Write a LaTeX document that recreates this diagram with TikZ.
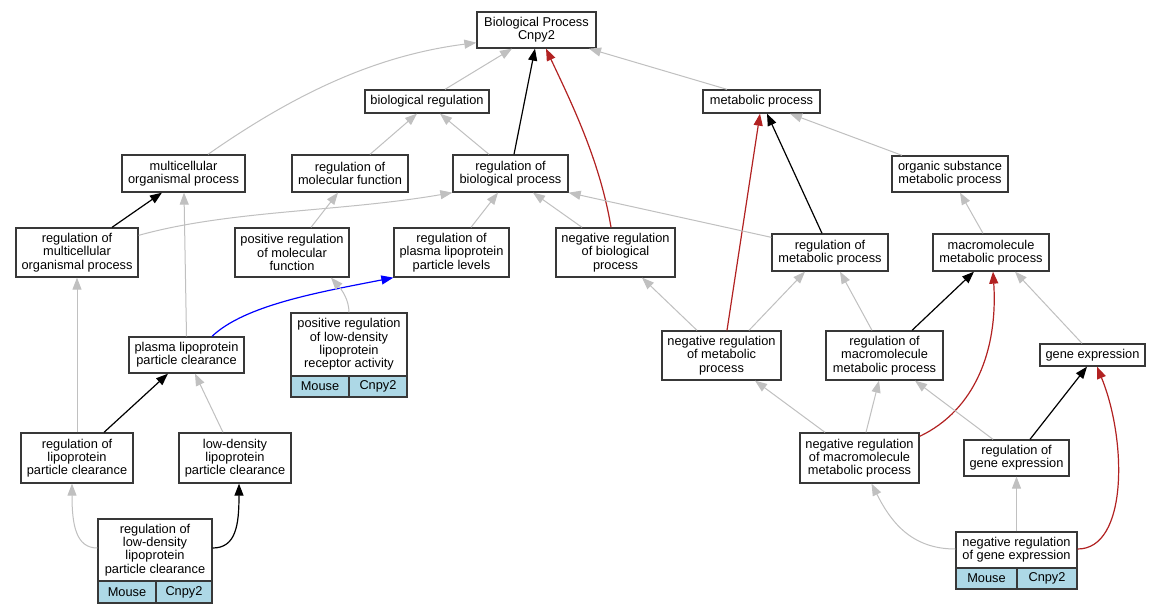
\documentclass[tikz,border=0pt]{standalone}
\usepackage{fontspec}
\setmainfont{Liberation Sans}
\usetikzlibrary{arrows.meta}
\definecolor{edgegray}{HTML}{C0C0C0}
\definecolor{fbrick}{HTML}{B22222}
\definecolor{boxline}{HTML}{383838}
\definecolor{cellblue}{HTML}{ADD8E6}
\begin{document}
\begin{tikzpicture}[x=1pt,y=-1pt,
  box/.style={draw=boxline,line width=1.3pt,fill=white,inner sep=0pt,align=center,
    font=\fontsize{12.8}{13.3}\selectfont},
  cell/.style={box,fill=cellblue},
  tip/.style={-{Triangle[length=12pt,width=9pt]}},
  ge/.style={tip,draw=edgegray,line width=1pt},
  be/.style={tip,draw=black,line width=1.2pt},
  re/.style={tip,draw=fbrick,line width=1.2pt},
  ble/.style={tip,draw=blue,line width=1.2pt}]
\useasboundingbox (0,0) rectangle (1160,613);
\fill[white] (0,0) rectangle (1160,613);

% nodes
\node[box,minimum width=119pt,minimum height=36pt] (n1) at (536.5,30) {Biological Process\\Cnpy2};
\node[box,minimum width=124pt,minimum height=23pt] (n2) at (427,101.5) {biological regulation};
\node[box,minimum width=117pt,minimum height=23pt] (n3) at (761.5,101.5) {metabolic process};
\node[box,minimum width=123pt,minimum height=37pt] (n4) at (183.5,173.5) {multicellular\\organismal process};
\node[box,minimum width=116pt,minimum height=37pt] (n5) at (350,173.5) {regulation of\\molecular function};
\node[box,minimum width=115pt,minimum height=37pt] (n6) at (510.5,173.5) {regulation of\\biological process};
\node[box,minimum width=116pt,minimum height=36pt] (n7) at (950,174) {organic substance\\metabolic process};
\node[box,minimum width=122pt,minimum height=49pt] (n8) at (77,252.5) {regulation of\\multicellular\\organismal process};
\node[box,minimum width=114pt,minimum height=49pt] (n9) at (292,252.5) {positive regulation\\of molecular\\function};
\node[box,minimum width=115pt,minimum height=49pt] (n10) at (451.5,252.5) {regulation of\\plasma lipoprotein\\particle levels};
\node[box,minimum width=119pt,minimum height=49pt] (n11) at (615.5,252.5) {negative regulation\\of biological\\process};
\node[box,minimum width=116pt,minimum height=37pt] (n12) at (830,252.5) {regulation of\\metabolic process};
\node[box,minimum width=116pt,minimum height=37pt] (n13) at (991,252.5) {macromolecule\\metabolic process};
\node[box,minimum width=115pt,minimum height=36pt] (n14) at (186.5,355) {plasma lipoprotein\\particle clearance};
\node[box,minimum width=116pt,minimum height=63pt] (n15) at (349,344.5) {positive regulation\\of low-density\\lipoprotein\\receptor activity};
\node[cell,minimum width=58pt,minimum height=21pt] (n15m) at (320,386.5) {Mouse};
\node[cell,minimum width=58pt,minimum height=21pt] (n15c) at (378,386.5) {Cnpy2};
\node[box,minimum width=119pt,minimum height=49pt] (n16) at (721.5,355.5) {negative regulation\\of metabolic\\process};
\node[box,minimum width=117pt,minimum height=49pt] (n17) at (884.5,355.5) {regulation of\\macromolecule\\metabolic process};
\node[box,minimum width=105pt,minimum height=22pt] (n18) at (1092.5,355) {gene expression};
\node[box,minimum width=112pt,minimum height=50pt] (n19) at (77,458) {regulation of\\lipoprotein\\particle clearance};
\node[box,minimum width=112pt,minimum height=50pt] (n20) at (235,458) {low-density\\lipoprotein\\particle clearance};
\node[box,minimum width=119pt,minimum height=50pt] (n21) at (859.5,458) {negative regulation\\of macromolecule\\metabolic process};
\node[box,minimum width=105pt,minimum height=36pt] (n22) at (1016.5,458) {regulation of\\gene expression};
\node[box,minimum width=114pt,minimum height=62pt] (n23) at (155,550) {regulation of\\low-density\\lipoprotein\\particle clearance};
\node[cell,minimum width=58pt,minimum height=22pt] (n23m) at (127,592) {Mouse};
\node[cell,minimum width=56pt,minimum height=22pt] (n23c) at (184,592) {Cnpy2};
\node[box,minimum width=121pt,minimum height=36pt] (n24) at (1016.5,550) {negative regulation\\of gene expression};
\node[cell,minimum width=61pt,minimum height=21pt] (n24m) at (986.5,578.5) {Mouse};
\node[cell,minimum width=60pt,minimum height=21pt] (n24c) at (1047,578.5) {Cnpy2};

% edges
\draw[ge] ([xshift=24.5pt]n4.north) .. controls (300,90) and (380,55) .. ([yshift=6pt]n1.south west);
\draw[ge] ([xshift=18pt]n2.north) -- ([xshift=-24.5pt]n1.south);
\draw[be] ([xshift=3.5pt]n6.north) -- ([xshift=-1.5pt]n1.south);
\draw[re] ([xshift=-4.5pt]n11.north) .. controls (600,160) and (570,100) .. ([xshift=9.5pt]n1.south);
\draw[ge] ([xshift=-34.5pt]n3.north) -- ([xshift=52.5pt]n1.south);
\draw[ge] ([xshift=20pt]n5.north) -- ([xshift=-10pt]n2.south);
\draw[ge] ([xshift=-21.5pt]n6.north) -- ([xshift=13pt]n2.south);
\draw[re] ([xshift=5.5pt]n16.north) -- ([xshift=-1.5pt]n3.south);
\draw[be] ([xshift=-8pt]n12.north) -- ([xshift=5.5pt]n3.south);
\draw[ge] ([xshift=-48pt]n7.north) -- ([xshift=28.5pt]n3.south);
\draw[be] ([xshift=35pt]n8.north) -- ([xshift=-21.5pt]n4.south);
\draw[ge] (n14.north) -- ([xshift=0.5pt]n4.south);
\draw[ge] ([xshift=19pt]n9.north) -- ([xshift=-12pt]n5.south);
\draw[ge] ([yshift=-8pt]n8.north east) .. controls (230,210) and (340,212) .. (n6.south west);
\draw[ge] ([xshift=19.5pt]n10.north) -- ([xshift=-12.5pt]n6.south);
\draw[ge] ([xshift=-33.5pt]n11.north) -- ([xshift=22.5pt]n6.south);
\draw[ge] ([yshift=-4pt]n12.north west) -- (n6.south east);
\draw[ge] ([xshift=-8pt]n13.north) -- ([xshift=10pt]n7.south);
\draw[ge] ([xshift=-24.5pt]n16.north) -- ([xshift=26.5pt]n11.south);
\draw[ge] ([xshift=27.5pt]n16.north) -- ([xshift=-25pt]n12.south);
\draw[ge] ([xshift=-12.5pt]n17.north) -- ([xshift=10pt]n12.south);
\draw[be] ([xshift=27.5pt]n17.north) -- ([xshift=-17pt]n13.south);
\draw[re] ([yshift=-4pt]n21.north east) .. controls (975,410) and (998,350) .. ([xshift=2pt]n13.south);
\draw[ge] ([xshift=-10.5pt]n18.north) -- ([xshift=24pt]n13.south);
\draw[ge] (n19.north) -- (n8.south);
\draw[be] ([xshift=27pt]n19.north) -- ([xshift=-18.5pt]n14.south);
\draw[ge] ([xshift=-12pt]n20.north) -- ([xshift=8.5pt]n14.south);
\draw[ble] ([xshift=25.5pt]n14.north) .. controls (245,305) and (320,292) .. (n10.south west);
\draw[ge] (n15.north) .. controls (349,300) and (342,290) .. ([xshift=39pt]n9.south);
\draw[ge] ([yshift=2pt]n23.west) .. controls (76,548) and (72,525) .. ([xshift=-5pt]n19.south);
\draw[be] ([yshift=2pt]n23.east) .. controls (236,548) and (239,525) .. ([xshift=4pt]n20.south);
\draw[ge] ([xshift=-34.5pt]n21.north) -- ([xshift=33.5pt]n16.south);
\draw[ge] ([xshift=6.5pt]n21.north) -- ([xshift=-5.5pt]n17.south);
\draw[ge] ([xshift=-23.5pt]n22.north) -- ([xshift=30.5pt]n17.south);
\draw[be] ([xshift=13.5pt]n22.north) -- ([xshift=-5.5pt]n18.south);
\draw[ge] ([yshift=1pt]n24.west) .. controls (910,549) and (890,520) .. ([xshift=12pt]n21.south);
\draw[ge] (n24.north) -- (n22.south);
\draw[re] ([yshift=1pt]n24.east) .. controls (1128,549) and (1127,440) .. ([xshift=4.5pt]n18.south);
\end{tikzpicture}
\end{document}
